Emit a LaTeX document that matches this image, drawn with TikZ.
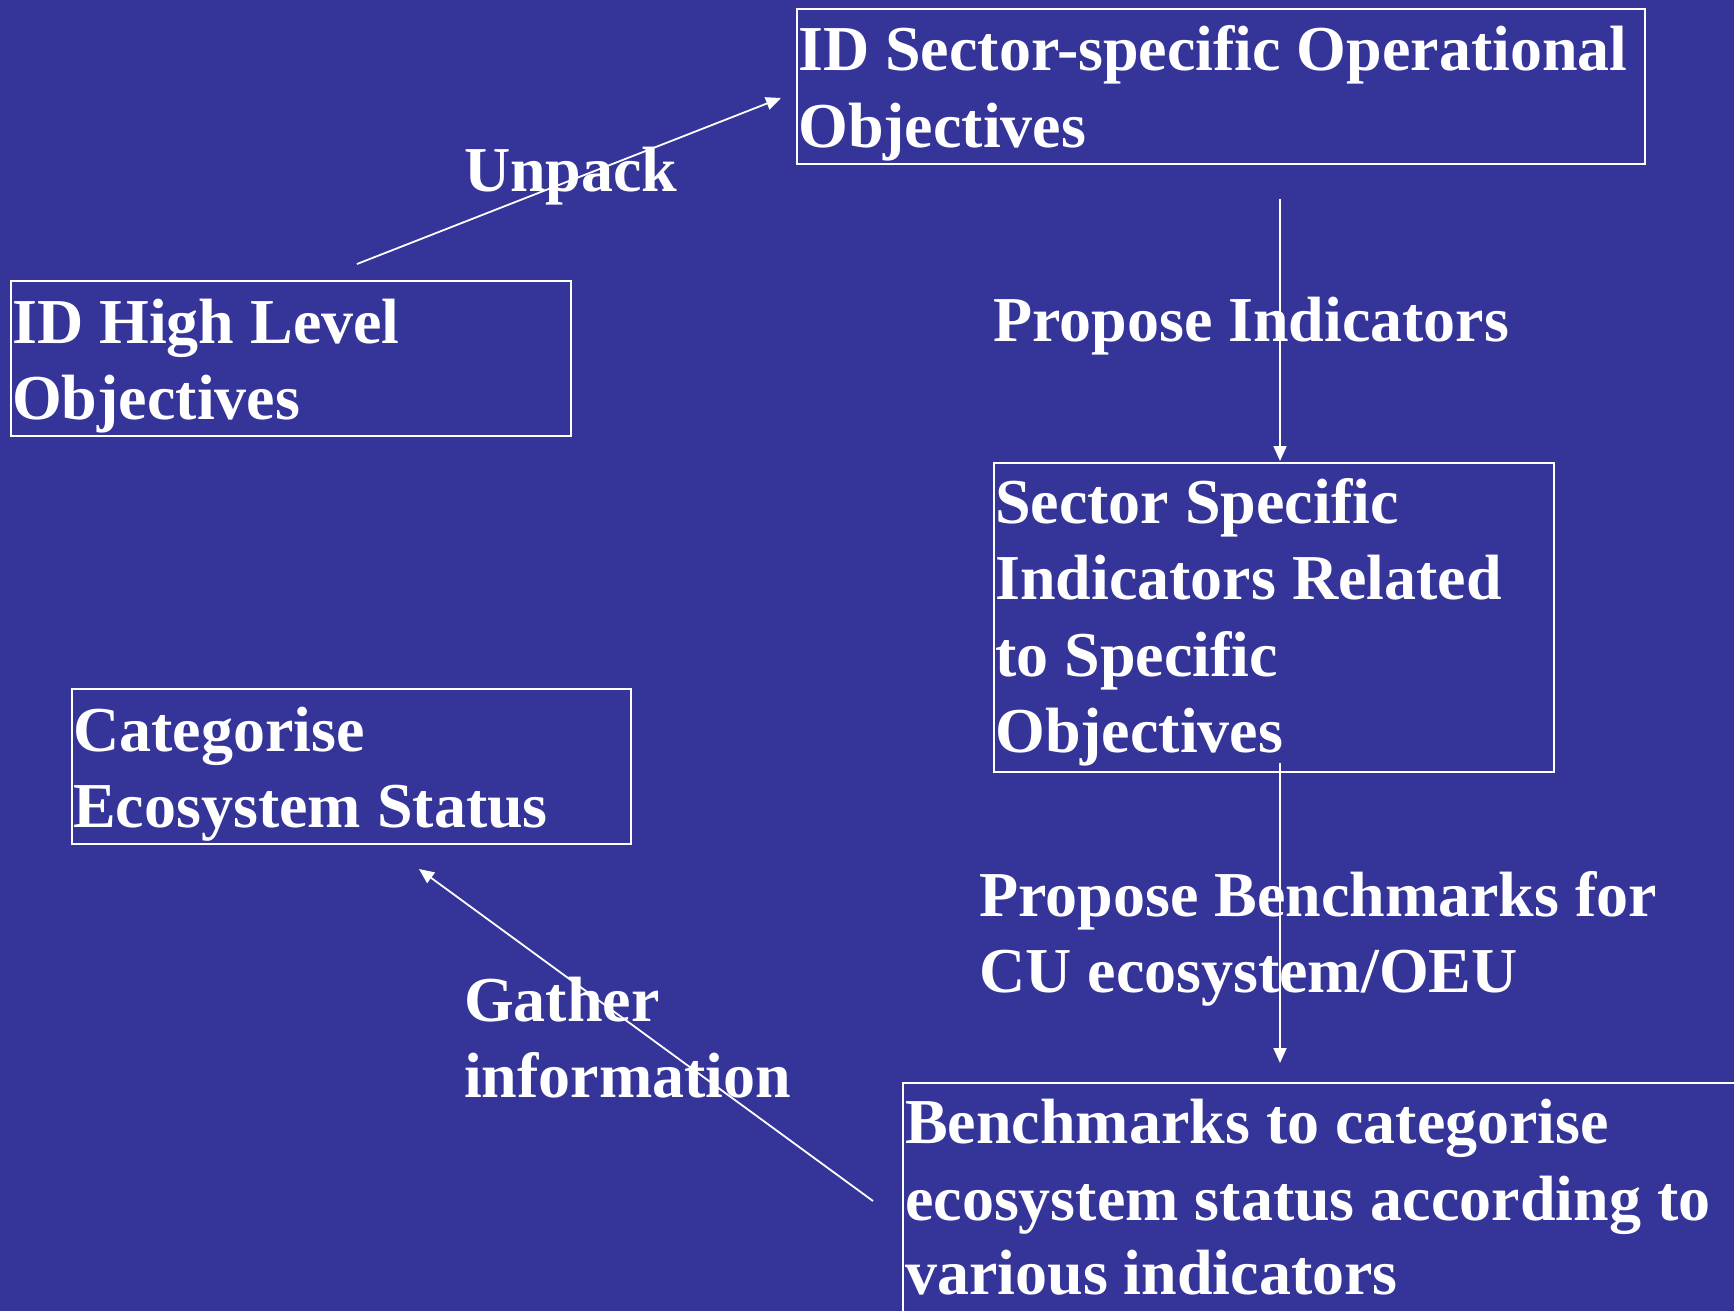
\documentclass[tikz,border=0pt]{standalone}
\usepackage{fontspec}
\setmainfont{Liberation Serif}
\usetikzlibrary{arrows.meta}
\definecolor{bg}{RGB}{53,52,153}
\begin{document}
\begin{tikzpicture}[x=1pt,y=-1pt,
  box/.style={draw=white,line width=1.6pt,rectangle,inner sep=0pt,anchor=north west},
  txt/.style={text=white,font=\fontsize{64}{76}\selectfont\bfseries,anchor=base west,inner sep=0pt},
  conn/.style={draw=white,line width=1.8pt,-{Triangle[length=15pt,width=13pt]}}]
\fill[bg] (0,0) rectangle (1734,1311);
\useasboundingbox (0,0) rectangle (1734,1311);
% boxes
\node[box,minimum width=848pt,minimum height=155pt] (b1) at (796,8) {};
\node[box,minimum width=560pt,minimum height=155pt] (b2) at (10,280) {};
\node[box,minimum width=560pt,minimum height=309pt] (b3) at (993,462) {};
\node[box,minimum width=559pt,minimum height=155pt] (b4) at (71,688) {};
\node[box,minimum width=860pt,minimum height=260pt] (b5) at (902,1082) {};
% box texts
\node[txt] (t1a) at (798,71) {ID Sector-specific Operational};
\node[txt] (t1b) at (798,147) {Objectives};
\node[txt] (t2a) at (12,343) {ID High Level};
\node[txt] (t2b) at (12,419) {Objectives};
\node[txt] (t3a) at (995,523) {Sector Specific};
\node[txt] (t3b) at (995,599) {Indicators Related};
\node[txt] (t3c) at (995,676) {to Specific};
\node[txt] (t3d) at (995,752) {Objectives};
\node[txt] (t4a) at (73,751) {Categorise};
\node[txt] (t4b) at (73,827) {Ecosystem Status};
\node[txt] (t5a) at (905,1143) {Benchmarks to categorise};
\node[txt] (t5b) at (905,1220) {ecosystem status according to};
\node[txt] (t5c) at (905,1294) {various indicators};
% connector labels
\node[txt] (l1) at (464,191) {Unpack};
\node[txt] (l2) at (993,341) {Propose Indicators};
\node[txt] (l3a) at (979,916) {Propose Benchmarks for};
\node[txt] (l3b) at (979,992) {CU ecosystem/OEU};
\node[txt] (l4a) at (464,1021) {Gather};
\node[txt] (l4b) at (464,1097) {information};
% connector end points
\coordinate (u1) at (357,264);
\coordinate (u2) at (781,98);
\coordinate (p1) at (1280,199);
\coordinate (p2) at (1280,461);
\coordinate (q1) at (1280,763);
\coordinate (q2) at (1280,1063);
\coordinate (g1) at (873,1201);
\coordinate (g2) at (419,869);
\draw[conn] (u1) -- (u2);
\draw[conn] (p1) -- (p2);
\draw[conn] (q1) -- (q2);
\draw[conn] (g1) -- (g2);
\end{tikzpicture}
\end{document}
